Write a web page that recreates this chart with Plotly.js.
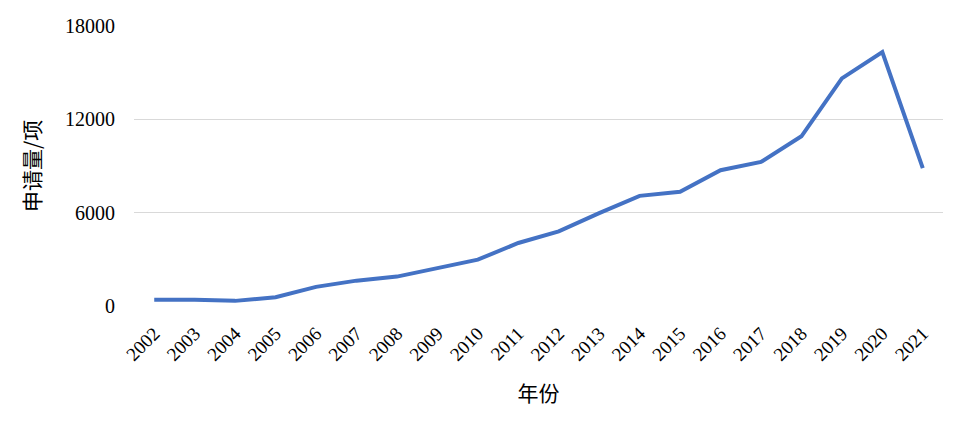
<!DOCTYPE html>
<html>
<head>
<meta charset="utf-8">
<script src="https://cdn.plot.ly/plotly-3.0.1.min.js"></script>
<style>html,body{margin:0;padding:0;background:#fff;}#chart{width:953px;height:421px;}</style>
</head>
<body>
<div id="chart"></div>
<script>
const years = ['2002','2003','2004','2005','2006','2007','2008','2009','2010','2011','2012','2013','2014','2015','2016','2017','2018','2019','2020','2021'];
const applications = [400, 400, 330, 560, 1230, 1630, 1890, 2420, 2980, 4050, 4800, 5970, 7080, 7340, 8730, 9260, 10910, 14630, 16330, 8860];
const yTicks = [0, 6000, 12000, 18000];

const trace = {
  x: years,
  y: applications,
  type: 'scatter',
  mode: 'lines',
  line: {color: '#4472C4', width: 4},
  hoverinfo: 'x+y'
};

const layout = {
  width: 953, height: 421,
  margin: {l: 134, r: 10, t: 26, b: 115},
  paper_bgcolor: '#ffffff', plot_bgcolor: '#ffffff',
  showlegend: false,
  xaxis: {
    type: 'category',
    range: [-0.5, 19.5],
    tickangle: -45,
    tickfont: {family: 'Liberation Serif, Times New Roman, serif', size: 19, color: '#000'},
    showgrid: false, zeroline: false, showline: false,
    ticks: 'outside', ticklen: 8, tickcolor: 'rgba(0,0,0,0)',
    title: {text: '年份', font: {family: 'Noto Sans CJK SC, sans-serif', size: 21, color: '#000'}, standoff: 22}
  },
  yaxis: {
    range: [0, 18000],
    tickvals: yTicks,
    ticktext: yTicks.map(String),
    tickfont: {family: 'Liberation Serif, Times New Roman, serif', size: 20, color: '#000'},
    showgrid: true, gridcolor: '#d9d9d9', gridwidth: 1.5,
    zeroline: false, showline: false,
    ticks: 'outside', ticklen: 14, tickcolor: 'rgba(0,0,0,0)',
    title: {text: '申请量/项', font: {family: 'Noto Sans CJK SC, sans-serif', size: 21, color: '#000'}, standoff: 18}
  }
};

Plotly.newPlot('chart', [trace], layout, {displayModeBar: false, staticPlot: true});
</script>
</body>
</html>
